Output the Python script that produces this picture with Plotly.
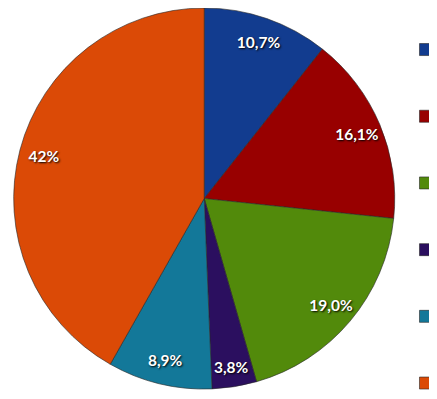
import plotly.graph_objects as go

labels = ["\u200b", "\u200b\u200b", "\u200b\u200b\u200b", "\u200b\u200b\u200b\u200b",
          "\u200b\u200b\u200b\u200b\u200b", "\u200b\u200b\u200b\u200b\u200b\u200b"]
values = [10.7, 16.1, 19.0, 3.8, 8.9, 42.0]
texts = ["10,7%", "16,1%", "19,0%", "3,8%", "8,9%", "42%"]
colors = ["#123C8F", "#980000", "#528A0B", "#2B0F5F", "#137899", "#DB4A06"]

dom = dict(x=[0.012, 0.886], y=[0.045, 1.0])

# main pie (slices + legend)
main = go.Pie(
    labels=labels, values=values, textinfo="none",
    sort=False, direction="clockwise", rotation=0,
    marker=dict(colors=colors, line=dict(color="rgba(40,40,40,0.6)", width=1)),
    hoverinfo="skip", domain=dom,
)
# transparent ring overlay that carries the percentage labels near the rim
ring = go.Pie(
    labels=labels, values=values, text=texts, textinfo="text",
    sort=False, direction="clockwise", rotation=0, hole=0.74,
    marker=dict(colors=["rgba(0,0,0,0)"] * len(values), line=dict(width=0)),
    textposition="inside", insidetextorientation="horizontal",
    textfont=dict(family="Lato", size=15.5, color="white", weight="bold",
                  shadow="1px 1px 2px black"),
    hoverinfo="skip", showlegend=False, domain=dom,
)
fig = go.Figure([main, ring])
fig.update_layout(
    width=437, height=399, margin=dict(l=0, r=0, t=0, b=0, autoexpand=False),
    paper_bgcolor="white", plot_bgcolor="white",
    showlegend=True,
    legend=dict(x=0.9096, y=0.992, xanchor="left", yanchor="top",
                font=dict(size=49), itemwidth=30, tracegroupgap=0,
                bgcolor="rgba(0,0,0,0)"),
    uniformtext=dict(minsize=15.5, mode="show"),
)
fig.write_html("out.html", config={"staticPlot": True})
